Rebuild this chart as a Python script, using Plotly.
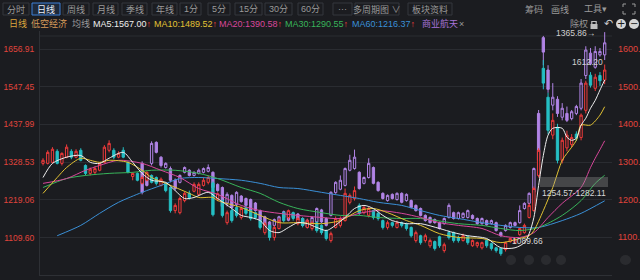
import plotly.graph_objects as go

# ---------------- data ----------------
# main index 低空经济, one candle per trading day (index 0..119)
main_open = [1325,1325,1328,1360,1325,1343,1360,1343,1363,1319,
             1296,1299,1305,1328,1363,1363,1343,1363,1328,1287,
             1296,1267,1276,1290,1284,1261,1267,1255,1188,1182,
             1217,1238,1244,1235,1261,1270,1268,1222,1217,1153,
             1188,1197,1168,1197,1188,1182,1159,1124,1145,1110,
             1136,1182,1168,1182,1150,1165,1139,1136,1153,1145,
             1130,1101,1139,1145,1159,1212,1223,1203,1182,1174,
             1188,1180,1159,1139,1153,1139,1153,1148,1139,1101,
             1115,1101,1086,1098,1112,1072,1124,1124,1110,1101,
             1112,1086,1086,1080,1101,1092,1080,1078,1075,1098,
             1095,1118,1124,1168,1188,1290,1601,1517,1407,1430,
             1334,1370,1380,1410,1400,1479,1581,1543,1580,1567]
main_close = [1334,1357,1366,1325,1354,1372,1343,1360,1334,1296,
              1308,1310,1325,1372,1383,1343,1354,1343,1299,1296,
              1276,1284,1299,1270,1267,1279,1246,1188,1203,1223,
              1238,1226,1264,1264,1276,1284,1176,1237,1174,1182,
              1159,1174,1194,1180,1165,1168,1139,1150,1110,1139,
              1159,1159,1188,1165,1165,1145,1159,1153,1130,1124,
              1107,1121,1165,1165,1238,1232,1246,1180,1197,1194,
              1168,1165,1139,1153,1145,1153,1145,1136,1115,1124,
              1095,1115,1101,1078,1086,1089,1110,1101,1101,1115,
              1095,1101,1095,1095,1086,1078,1072,1063,1095,1107,
              1104,1136,1145,1203,1252,1363,1558,1421,1450,1334,
              1392,1407,1400,1398,1465,1558,1552,1575,1565,1596]
main_high = [1340,1363,1372,1366,1357,1380,1366,1366,1369,1322,
             1313,1316,1328,1378,1392,1369,1360,1372,1331,1299,
             1299,1290,1302,1293,1287,1284,1270,1258,1209,1229,
             1244,1246,1270,1270,1284,1290,1273,1241,1220,1188,
             1194,1200,1200,1203,1191,1185,1162,1156,1148,1145,
             1165,1185,1191,1185,1171,1168,1165,1159,1156,1148,
             1133,1127,1171,1171,1252,1238,1258,1209,1203,1200,
             1191,1185,1162,1159,1156,1159,1156,1153,1142,1130,
             1118,1121,1107,1101,1115,1095,1130,1127,1115,1121,
             1115,1104,1098,1098,1104,1095,1083,1080,1098,1110,
             1110,1139,1150,1209,1258,1369,1625,1530,1470,1440,
             1400,1420,1410,1418,1470,1565,1590,1585,1590,1612]
main_low = [1319,1322,1325,1322,1319,1340,1337,1340,1331,1290,
            1290,1293,1302,1325,1357,1337,1340,1340,1296,1276,
            1273,1264,1273,1267,1261,1258,1241,1182,1180,1177,
            1212,1220,1241,1232,1258,1264,1171,1215,1168,1147,
            1153,1168,1162,1174,1159,1162,1133,1118,1101,1101,
            1133,1153,1162,1159,1145,1139,1136,1130,1124,1118,
            1101,1095,1136,1139,1156,1206,1217,1174,1177,1168,
            1162,1159,1133,1133,1139,1136,1139,1130,1110,1095,
            1089,1095,1080,1072,1080,1066,1104,1095,1095,1098,
            1089,1083,1080,1075,1080,1072,1066,1057,1069,1095,
            1092,1115,1121,1165,1185,1284,1540,1410,1395,1325,
            1325,1360,1372,1390,1392,1470,1545,1535,1550,1555]

# overlay 商业航天 (drawn on the same scale), starts at day 21
overlay_start = 21
ovl_open = [1325,1290,1325,1386,1343,1313,1310,1276,1270,
            1299,1305,1290,1296,1299,1302,1299,1264,1255,1210,
            1232,1205,1230,1223,1220,1210,1188,1170,1155,1145,
            1155,1168,1185,1168,1178,1165,1140,1150,1155,1190,
            1165,1174,1240,1250,1261,1305,1310,1299,1267,1284,
            1313,1270,1238,1217,1235,1220,1238,1217,1217,1203,
            1194,1174,1168,1162,1153,1150,1168,1182,1165,1168,
            1168,1174,1165,1150,1159,1150,1153,1124,1130,1139,
            1153,1153,1194,1209,1241,1470,1690,1596,1494,1511,
            1459,1470,1455,1470,1485,1580,1645,1604,1640,1640]
ovl_close = [1241,1261,1383,1357,1319,1325,1276,1252,1290,
             1313,1290,1299,1305,1310,1313,1255,1246,1200,1235,
             1197,1241,1214,1203,1188,1188,1159,1139,1136,1162,
             1170,1185,1160,1180,1160,1145,1160,1168,1194,1155,
             1145,1241,1270,1276,1310,1334,1343,1252,1284,1325,
             1267,1246,1223,1232,1223,1238,1212,1235,1197,1188,
             1174,1159,1153,1153,1136,1165,1203,1165,1182,1180,
             1188,1165,1150,1165,1147,1159,1130,1115,1145,1153,
             1145,1188,1209,1238,1310,1334,1648,1540,1517,1470,
             1485,1450,1475,1490,1558,1654,1615,1650,1650,1675]
ovl_high = [1331,1296,1389,1389,1346,1328,1316,1281,1293,
            1316,1308,1302,1310,1313,1322,1302,1267,1258,1241,
            1235,1244,1233,1226,1223,1213,1191,1173,1158,1165,
            1173,1188,1188,1183,1181,1168,1163,1171,1197,1193,
            1168,1244,1273,1290,1313,1350,1365,1302,1287,1340,
            1316,1273,1241,1235,1238,1241,1241,1238,1220,1206,
            1197,1177,1171,1165,1156,1168,1209,1185,1185,1183,
            1191,1177,1168,1168,1162,1162,1156,1127,1148,1156,
            1156,1203,1212,1241,1313,1480,1695,1610,1558,1520,
            1500,1490,1480,1495,1570,1665,1660,1665,1660,1706]
ovl_low = [1235,1258,1319,1354,1313,1310,1270,1246,1267,
           1296,1287,1287,1293,1296,1299,1252,1243,1197,1200,
           1194,1200,1211,1200,1185,1185,1156,1136,1133,1142,
           1152,1165,1157,1165,1157,1142,1137,1147,1152,1152,
           1142,1171,1237,1247,1258,1302,1307,1249,1264,1281,
           1264,1243,1220,1214,1220,1217,1209,1214,1194,1185,
           1171,1156,1150,1150,1133,1147,1165,1162,1162,1165,
           1165,1162,1147,1147,1144,1147,1127,1112,1127,1136,
           1142,1150,1191,1206,1238,1320,1610,1530,1479,1460,
           1450,1445,1450,1465,1479,1570,1610,1600,1635,1625]

# moving-average lines, read at sample days
ma5_x = [0,2,5,8,10,12,14,17,19,21,23,26,28,30,32,35,37,40,42,44,46,48,50,52,54,56,58,60,61,64,
         66,68,70,72,74,77,80,84,87,90,94,97,100,102,103,104,105,106,107,108,110,111,112,113,114,115,116,117,118,119]
ma5_v = [1284,1325,1343,1348,1328,1325,1340,1357,1328,1296,1276,1270,1246,1223,1226,1241,1223,1194,1174,1168,
         1159,1130,1124,1139,1153,1150,1139,1130,1136,1168,1194,1203,1194,1174,1159,1150,1150,1136,1124,1115,
         1107,1080,1080,1095,1121,1168,1261,1348,1407,1427,1427,1401,1392,1398,1436,1456,1485,1508,1538,1567.00]
ma10_x = [0,3,5,8,10,12,14,18,21,23,26,31,33,36,37,42,46,50,54,59,63,67,70,73,77,80,84,88,93,97,
          101,103,104,106,108,110,111,113,114,116,118,119]
ma10_v = [1238,1284,1313,1340,1334,1328,1334,1328,1305,1284,1267,1238,1226,1226,1217,1197,1174,1153,1153,1150,
          1159,1188,1194,1182,1159,1145,1121,1110,1107,1095,1107,1115,1130,1188,1255,1334,1354,1392,1436,1436,
          1465,1489.52]
ma20_x = [0,5,9,12,16,21,25,29,33,37,42,46,50,54,59,63,67,71,76,80,84,88,93,97,101,104,107,110,114,116,117,118,119]
ma20_v = [1267,1281,1305,1319,1334,1325,1305,1284,1252,1235,1203,1188,1180,1174,1168,1165,1180,1188,1180,1168,
          1153,1145,1136,1115,1110,1124,1168,1209,1255,1313,1340,1365,1390.58]
ma30_x = [0,5,9,14,19,23,28,33,37,42,46,50,54,59,63,67,71,76,80,88,93,97,101,105,110,114,117,119]
ma30_v = [1255,1281,1290,1296,1299,1305,1305,1296,1281,1255,1238,1212,1194,1182,1174,1174,1168,1165,1165,1150,
          1145,1136,1130,1139,1174,1217,1267,1290.55]
ma60_x = [3,8,12,16,21,25,29,33,37,42,46,50,54,59,63,67,71,76,80,84,88,93,97,101,105,110,114,119]
ma60_v = [1115,1145,1180,1212,1241,1261,1281,1284,1281,1276,1267,1255,1252,1241,1232,1223,1212,1203,1188,1174,
          1165,1153,1145,1139,1139,1159,1180,1216.37]

left_ticks = [1109.60, 1219.06, 1328.53, 1437.99, 1547.45, 1656.91]
right_ticks = [1100, 1200, 1300, 1400, 1500, 1600]
right_ticktext = ["1100.", "1200.", "1300.", "1400.", "1500.", "1600."]   # as visible at the window edge

toolbar = ["分时", "日线", "周线", "月线", "季线", "年线", "1分", "5分", "15分", "30分", "60分", "···", "多周期图 ∨", "板块资料"]
toolbar_right = ["筹码", "画线", "工具▾"]
marker_labels = ["1365.86→", "1612.20", "1254.57-1282.11", "1089.66"]

# ---------------- style / layout ----------------
W, H = 640, 280
L, R, T, B = 40, 28, 31, 5
PW, PH = W - L - R, H - T - B
BG = '#1b1c20'
RED = '#ee3b3b'
CYAN = '#25bfc4'
PURPLE = '#b184e6'
GRID = '#2a2c31'
FONT = 'Liberation Sans, Noto Sans CJK SC, sans-serif'


def px(x):
    return (x - L) / PW


def py(y):
    return (H - B - y) / PH


days = list(range(len(main_open)))
odays = days[overlay_start:]

fig = go.Figure()
fig.add_trace(go.Candlestick(
    x=odays, open=ovl_open, high=ovl_high, low=ovl_low, close=ovl_close,
    increasing=dict(line=dict(color=PURPLE, width=1), fillcolor=BG),
    decreasing=dict(line=dict(color=PURPLE, width=1), fillcolor=PURPLE),
    whiskerwidth=0, showlegend=False, hoverinfo='skip'))
fig.add_trace(go.Candlestick(
    x=days, open=main_open, high=main_high, low=main_low, close=main_close,
    increasing=dict(line=dict(color=RED, width=1), fillcolor=BG),
    decreasing=dict(line=dict(color=CYAN, width=1), fillcolor=CYAN),
    whiskerwidth=0, showlegend=False, hoverinfo='skip'))

ma_specs = [(ma60_x, ma60_v, '#3a8fd6'), (ma30_x, ma30_v, '#38b45a'),
            (ma20_x, ma20_v, '#d8479b'), (ma10_x, ma10_v, '#e2c233'),
            (ma5_x, ma5_v, '#eeeeee')]
for xs, vs, col in ma_specs:
    fig.add_trace(go.Scatter(x=xs, y=vs, mode='lines', line=dict(color=col, width=1, shape='spline', smoothing=0.8),
                             showlegend=False, hoverinfo='skip'))
fig.add_trace(go.Scatter(x=[], y=[], yaxis='y2', showlegend=False))

shapes = []
ann = []


def text(t, x, y, color, size=9, xanchor='left', family=FONT):
    ann.append(dict(text=t, x=px(x), y=py(y), xref='paper', yref='paper', showarrow=False,
                    xanchor=xanchor, yanchor='middle', font=dict(color=color, size=size, family=family)))


# toolbar row
btn_pos = [(3, 29), (32, 60), (63, 89), (93, 118), (122, 147), (152, 177), (180, 201), (208, 230),
           (235, 262), (265, 292), (298, 323), (333, 352), (355, 399), (408, 452)]
for label, (x0, x1) in zip(toolbar, btn_pos):
    sel = label == "日线"
    shapes.append(dict(type='rect', xref='paper', yref='paper', x0=px(x0), x1=px(x1), y0=py(3), y1=py(15),
                       line=dict(color='#3d7fd6' if sel else '#34363c', width=1),
                       fillcolor='#1e2a3c' if sel else 'rgba(0,0,0,0)', layer='above'))
    text(label, (x0 + x1) / 2, 9, '#e8eef8' if sel else '#9a9a9a', 9, 'center')
for label, xc in zip(toolbar_right, [534, 560, 595]):
    text(label, xc, 9, '#9a9a9a', 9, 'center')
# expand icon corners
for (cx, cy, dx, dy) in [(623, 4, 1, 1), (635, 4, -1, 1), (623, 14, 1, -1), (635, 14, -1, -1)]:
    shapes.append(dict(type='path', xref='paper', yref='paper', layer='above',
                       path=f"M {px(cx)},{py(cy + 3 * dy)} L {px(cx)},{py(cy)} L {px(cx + 3 * dx)},{py(cy)}",
                       line=dict(color='#9a9a9a', width=1)))

# info row
text("日线", 7, 24, '#d9a43c')
text("低空经济", 29, 24, '#d49a5a')
text("均线", 70, 24, '#9a9a9a')
arrow = "<span style='color:#f03c3c'>↑</span>"
text(f"MA5:{ma5_v[-1]:.2f}" + arrow, 91, 24, '#eeeeee')
text(f"MA10:{ma10_v[-1]:.2f}" + arrow, 152, 24, '#e2c233')
text(f"MA20:{ma20_v[-1]:.2f}" + arrow, 217, 24, '#d8479b')
text(f"MA30:{ma30_v[-1]:.2f}" + arrow, 283, 24, '#38b45a')
text(f"MA60:{ma60_v[-1]:.2f}" + arrow, 350, 24, '#3a8fd6')
text("商业航天", 420, 24, '#a673d9')
text("×", 457, 24, '#9a9a9a')
text("除权", 568, 24, '#9a9a9a')
# lock
shapes.append(dict(type='rect', xref='paper', yref='paper', x0=px(590.5), x1=px(597.5), y0=py(29), y1=py(24),
                   fillcolor='#bdbdbd', line=dict(width=0), layer='above'))
shapes.append(dict(type='path', xref='paper', yref='paper', layer='above',
                   path=f"M {px(591.8)},{py(24)} L {px(591.8)},{py(21.5)} L {px(596.2)},{py(21.5)} L {px(596.2)},{py(24)}",
                   line=dict(color='#bdbdbd', width=1.2)))
text("↶", 608, 24, '#c8c8c8', 11, 'center', 'DejaVu Sans')
for cx, sym in [(621, "+"), (634, "−")]:
    shapes.append(dict(type='circle', xref='paper', yref='paper', x0=px(cx - 5), x1=px(cx + 5), y0=py(29), y1=py(19),
                       fillcolor='#d6d6d6', line=dict(width=0), layer='above'))
    text(sym, cx, 24, BG, 10, 'center', 'DejaVu Sans')

# separator line under info row
shapes.append(dict(type='line', xref='paper', yref='paper', x0=0, x1=1, y0=py(36), y1=py(36),
                   line=dict(color=GRID, width=1), layer='below'))

# marker labels on the chart
text(marker_labels[0], 597, 33, '#cfcfcf', 8.5, 'right')
text(marker_labels[1], 570, 62, '#cfcfcf', 8.5)
shapes.append(dict(type='rect', xref='paper', yref='paper', x0=px(540), x1=px(608), y0=py(187), y1=py(177),
                   fillcolor='rgba(150,150,150,0.35)', line=dict(width=0), layer='above'))
text(marker_labels[2], 540, 193, '#d6d6d6', 8.5)
text(marker_labels[3], 510, 241, '#d6d6d6', 8.5)

# faint blurred watermark spots at the bottom right
for (x0, x1) in [(506, 516), (524, 534), (541, 551), (556, 566), (620, 631)]:
    shapes.append(dict(type='circle', xref='paper', yref='paper', x0=px(x0), x1=px(x1), y0=py(265), y1=py(255),
                       fillcolor='rgba(235,235,235,0.08)', line=dict(width=0), layer='above'))

fig.update_layout(
    width=W, height=H, margin=dict(l=L, r=R, t=T, b=B, autoexpand=False),
    paper_bgcolor=BG, plot_bgcolor=BG,
    shapes=shapes, annotations=ann, showlegend=False,
    xaxis=dict(range=[-0.64, 120.55], showticklabels=False, showgrid=False, zeroline=False, automargin=False,
               showline=True, linecolor='#2e3035', ticks='', rangeslider=dict(visible=False), fixedrange=True),
    yaxis=dict(range=[1001.0, 1709.3], tickvals=left_ticks, ticktext=[f"{v:.2f}" for v in left_ticks],
               tickfont=dict(color='#e0443c', size=8.5, family=FONT), showgrid=True, gridcolor=GRID, automargin=False,
               zeroline=False, showline=True, linecolor='#2e3035', ticks='', ticklabelstandoff=3, fixedrange=True),
    yaxis2=dict(range=[998.9, 1647.9], overlaying='y', side='right', tickvals=right_ticks, automargin=False,
                ticktext=right_ticktext, tickfont=dict(color='#e0443c', size=9, family=FONT),
                showgrid=False, zeroline=False, showline=False, ticks='', ticklabelstandoff=5, fixedrange=True),
)

fig.write_html("out.html")
